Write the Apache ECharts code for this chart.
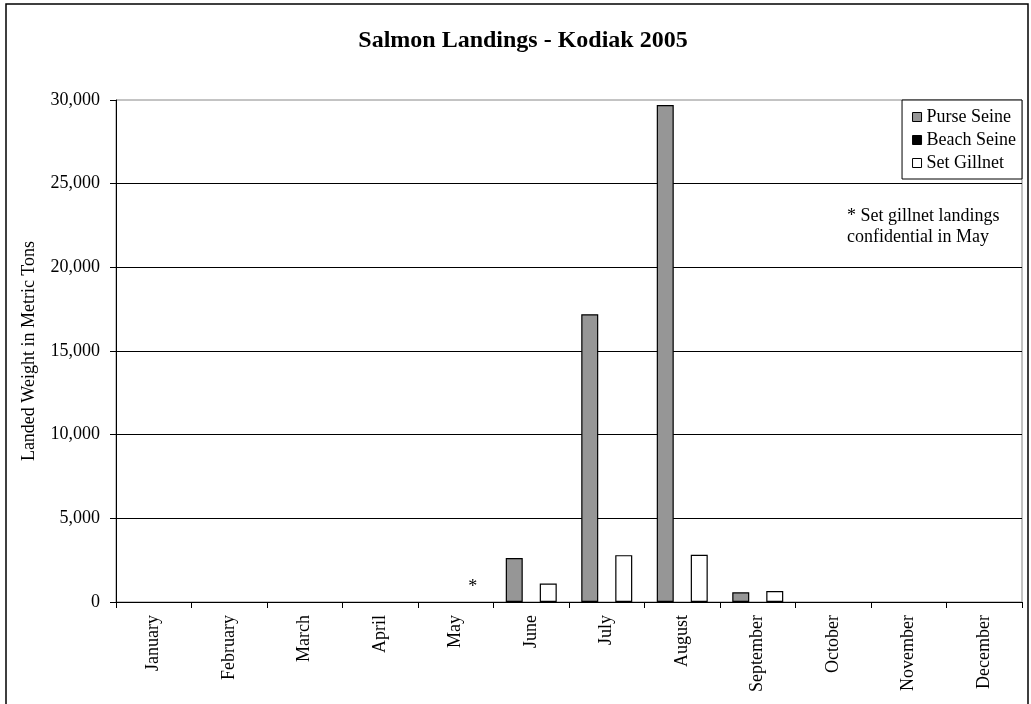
<!DOCTYPE html>
<html>
<head>
<meta charset="utf-8">
<title>Salmon Landings - Kodiak 2005</title>
<script src="https://cdn.jsdelivr.net/npm/echarts@6/dist/echarts.min.js"></script>
<style>
  html, body { margin: 0; padding: 0; background: #fff; }
  #chart { width: 1031px; height: 704px; }
</style>
</head>
<body>
<div id="chart"></div>
<script>
// Monthly salmon landings by gear type, metric tons
const months = ['January', 'February', 'March', 'April', 'May', 'June',
  'July', 'August', 'September', 'October', 'November', 'December'];
const purseSeine  = [0, 0, 0, 0, 0, 2630, 17200, 29700, 580, 0, 0, 0];
const beachSeine  = [0, 0, 0, 0, 0, 0, 0, 0, 0, 0, 0, 0];
const setGillnet  = [0, 0, 0, 0, 0, 1100, 2800, 2820, 650, 0, 0, 0];
const confidentialMonth = 'May';
const yTicks = { min: 0, max: 30000, step: 5000 };

const FONT = "'Liberation Serif', 'Times New Roman', serif";

// Zero months get no outline, so nothing shows on the axis
function toItems(values, asteriskMonth) {
  return values.map((v, i) => {
    const item = { value: v };
    if (v === 0) item.itemStyle = { borderWidth: 0 };
    if (months[i] === asteriskMonth) {
      item.label = { show: true, formatter: '*', position: 'top', distance: 6,
        fontFamily: FONT, fontSize: 18, color: '#000' };
    }
    return item;
  });
}

const chart = echarts.init(document.getElementById('chart'), null, { renderer: 'canvas' });

const bar = (name, values, color, asteriskMonth) => ({
  type: 'bar', name, barWidth: 17, barGap: '0%',
  itemStyle: { color, borderColor: '#000', borderWidth: 1.2 },
  data: toItems(values, asteriskMonth)
});

chart.setOption({
  animation: false,
  backgroundColor: '#fff',
  title: {
    text: 'Salmon Landings - Kodiak 2005',
    left: 518, top: 24, textAlign: 'center',
    textStyle: { fontFamily: FONT, fontSize: 24, fontWeight: 'bold', color: '#000' }
  },
  legend: {
    orient: 'vertical', right: 9, top: 100,
    backgroundColor: '#fff', borderColor: '#000', borderWidth: 1,
    padding: [8, 6, 7, 10],
    icon: 'rect',
    itemWidth: 9, itemHeight: 9, itemGap: 5, itemTextGap: 3,
    itemStyle: { borderColor: '#000', borderWidth: 1 },
    textStyle: { fontFamily: FONT, fontSize: 18, color: '#000' },
    data: ['Purse Seine', 'Beach Seine', 'Set Gillnet']
  },
  grid: {
    left: 116, right: 9, top: 100, bottom: 102,
    show: true, borderColor: '#888', borderWidth: 1, backgroundColor: '#fff'
  },
  xAxis: {
    type: 'category', data: months,
    axisLine: { lineStyle: { color: '#000', width: 1 } },
    axisTick: { show: true, interval: 0, length: 6, lineStyle: { color: '#000' } },
    axisLabel: { interval: 0, rotate: 90, margin: 13,
      fontFamily: FONT, fontSize: 18, color: '#000' }
  },
  yAxis: {
    type: 'value', min: yTicks.min, max: yTicks.max, interval: yTicks.step,
    name: 'Landed Weight in Metric Tons', nameLocation: 'middle', nameGap: 78,
    nameTextStyle: { fontFamily: FONT, fontSize: 18, color: '#000' },
    axisLine: { show: true, lineStyle: { color: '#000', width: 1 } },
    axisTick: { show: true, length: 6, lineStyle: { color: '#000' } },
    axisLabel: { margin: 16, fontFamily: FONT, fontSize: 18, color: '#000',
      formatter: v => v.toLocaleString('en-US') },
    splitLine: { show: true, showMaxLine: false, lineStyle: { color: '#000', width: 1 } }
  },
  graphic: [
    { type: 'rect', silent: true, z: -10,
      shape: { x: 6, y: 4, width: 1022, height: 720 },
      style: { fill: 'none', stroke: '#000', lineWidth: 1.5 } },
    { type: 'text', left: 847, top: 206, silent: true,
      style: { text: '* Set gillnet landings\nconfidential in May',
        font: '18px ' + FONT, lineHeight: 21, fill: '#000' } }
  ],
  series: [
    bar('Purse Seine', purseSeine, '#969696'),
    bar('Beach Seine', beachSeine, '#000'),
    bar('Set Gillnet', setGillnet, '#fff', confidentialMonth)
  ]
});
</script>
</body>
</html>
